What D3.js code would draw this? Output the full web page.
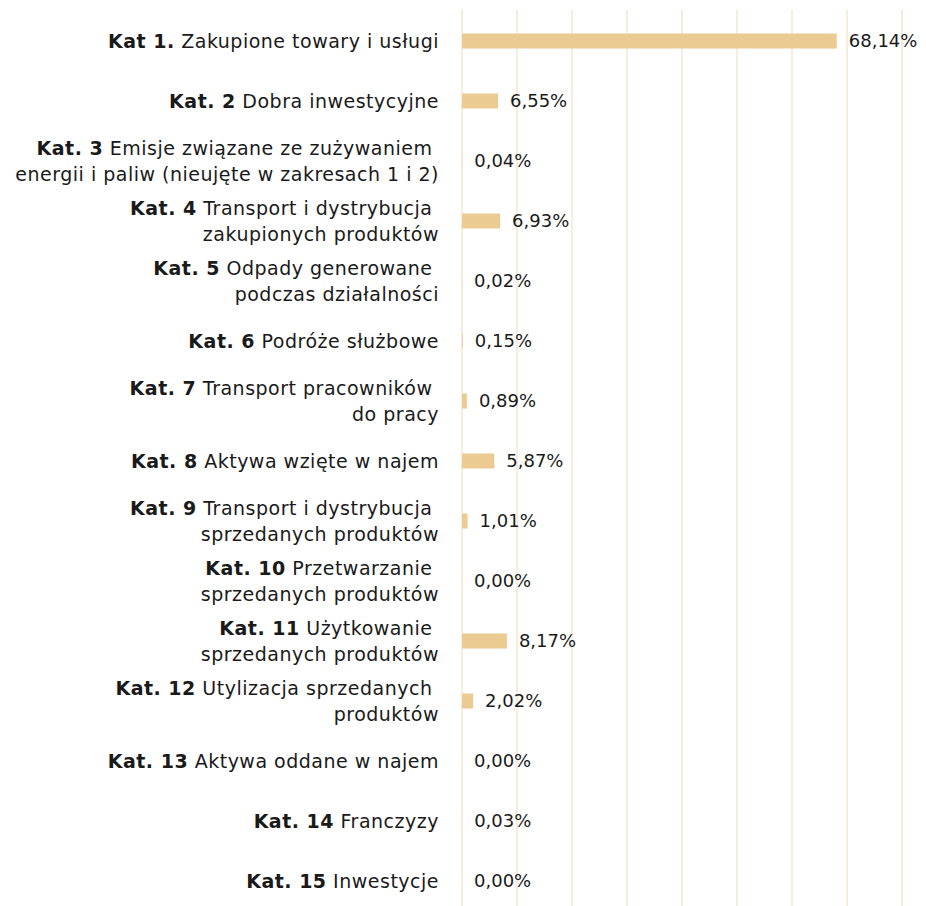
<!DOCTYPE html>
<html>
<head>
<meta charset="utf-8">
<script src="https://cdn.jsdelivr.net/npm/d3@7"></script>
<style>
    body { margin: 0; background: #fff; }
    text { font-family: "DejaVu Sans", sans-serif; fill: #1a1a1a; white-space: pre; }
</style>
</head>
<body>
<div id="chart"></div>
<script>
// Data
var codes = ["Kat 1.", "Kat. 2", "Kat. 3", "Kat. 4", "Kat. 5", "Kat. 6", "Kat. 7", "Kat. 8",
             "Kat. 9", "Kat. 10", "Kat. 11", "Kat. 12", "Kat. 13", "Kat. 14", "Kat. 15"];
var firstLines = [" Zakupione towary i usługi", " Dobra inwestycyjne", " Emisje związane ze zużywaniem ",
                  " Transport i dystrybucja ", " Odpady generowane ", " Podróże służbowe",
                  " Transport pracowników ", " Aktywa wzięte w najem", " Transport i dystrybucja ",
                  " Przetwarzanie ", " Użytkowanie ", " Utylizacja sprzedanych ",
                  " Aktywa oddane w najem", " Franczyzy", " Inwestycje"];
var secondLines = ["", "", "energii i paliw (nieujęte w zakresach 1 i 2)", "zakupionych produktów",
                   "podczas działalności", "", "do pracy", "", "sprzedanych produktów",
                   "sprzedanych produktów", "sprzedanych produktów", "produktów", "", "", ""];
var values = [68.14, 6.55, 0.04, 6.93, 0.02, 0.15, 0.89, 5.87, 1.01, 0.00, 8.17, 2.02, 0.00, 0.03, 0.00];
var gridTicks = [0, 10, 20, 30, 40, 50, 60, 70, 80];

var width = 926, height = 906;
var barHeight = 15;

var svg = d3.select("#chart")
            .append("svg")
                .attr("width", width)
                .attr("height", height)

var x = d3.scaleLinear()
          .domain([0, 80])
          .range([462, 902])

var y = d3.scalePoint()
          .domain(d3.range(codes.length))
          .range([41, 881])

// Vertical grid lines
svg.selectAll(".grid")
   .data(gridTicks)
   .enter()
   .append("line")
        .attr("x1", function(v) { return x(v) })
        .attr("x2", function(v) { return x(v) })
        .attr("y1", 10)
        .attr("y2", height)
        .attr("stroke", "#f8ecdc")
        .attr("stroke-width", 2)

// Bars
svg.selectAll(".bar")
   .data(values)
   .enter()
   .append("rect")
        .attr("x", x(0))
        .attr("y", function(v, i) { return y(i) - barHeight/2 })
        .attr("width", function(v) { return x(v) - x(0) })
        .attr("height", barHeight)
        .style("fill", "#eccb92")

// Value labels
svg.selectAll(".value")
   .data(values)
   .enter()
   .append("text")
        .attr("x", function(v) { return x(v) + 12 })
        .attr("y", function(v, i) { return y(i) })
        .attr("dy", "0.35em")
        .style("font-size", "18px")
        .text(function(v) { return v.toFixed(2).replace(".", ",") + "%" })

// Category labels, right aligned
codes.forEach(function(code, i) {
    var twoLines = secondLines[i] !== "";
    var t = svg.append("text")
               .attr("text-anchor", "end")
               .style("font-size", "19px")
               .style("letter-spacing", "0.5px")
               .attr("y", twoLines ? y(i) - 13 : y(i))
               .attr("dy", "0.35em")
    var line1 = t.append("tspan").attr("x", 439)
    line1.append("tspan").style("font-weight", "bold").text(code)
    line1.append("tspan").text(firstLines[i])
    if (twoLines) {
        t.append("tspan")
         .attr("x", 439)
         .attr("dy", 26)
         .text(secondLines[i])
    }
});
</script>
</body>
</html>
